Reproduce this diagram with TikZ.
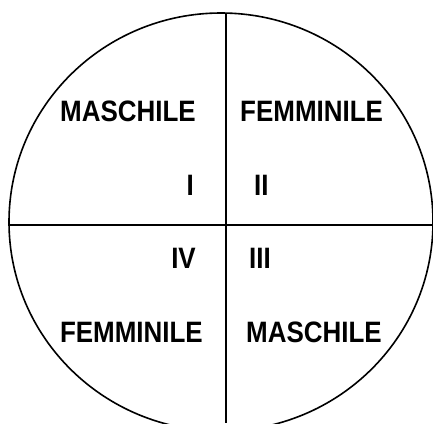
\documentclass[tikz,border=0pt]{standalone}
\usepackage{fontspec}
\setmainfont{Liberation Sans}
\newcommand{\sq}[1]{\scalebox{0.88}[1]{#1}}
\begin{document}
\begin{tikzpicture}[x=1pt,y=-1pt,
  lbl/.style={inner sep=0pt, font=\fontsize{29.5}{29.5}\selectfont\bfseries},
  ln/.style={line width=2pt},
  rim/.style={line width=1.6pt}]
\useasboundingbox (0,0) rectangle (433,423);
\begin{scope}
\clip (0,0) rectangle (433,423);
\draw[rim] (221,222) ellipse [x radius=212, y radius=209];
\coordinate (top) at (226,13);
\coordinate (bot) at (226,423);
\coordinate (lft) at (9,225);
\coordinate (rgt) at (433,225);
\draw[ln] (top) -- (bot);
\draw[ln] (lft) -- (rgt);
\end{scope}
\node[lbl, anchor=base east] (m1) at (196,121) {\sq{MASCHILE}};
\node[lbl, anchor=base west] (f1) at (240,121) {\sq{FEMMINILE}};
\node[lbl, anchor=base east] (n1) at (194,195) {\sq{I}};
\node[lbl, anchor=base west] (n2) at (254,195) {\sq{II}};
\node[lbl, anchor=base east] (n4) at (196,268) {\sq{IV}};
\node[lbl, anchor=base west] (n3) at (249,268) {\sq{III}};
\node[lbl, anchor=base east] (f2) at (203,342) {\sq{FEMMINILE}};
\node[lbl, anchor=base west] (m2) at (246,342) {\sq{MASCHILE}};
\end{tikzpicture}
\end{document}
